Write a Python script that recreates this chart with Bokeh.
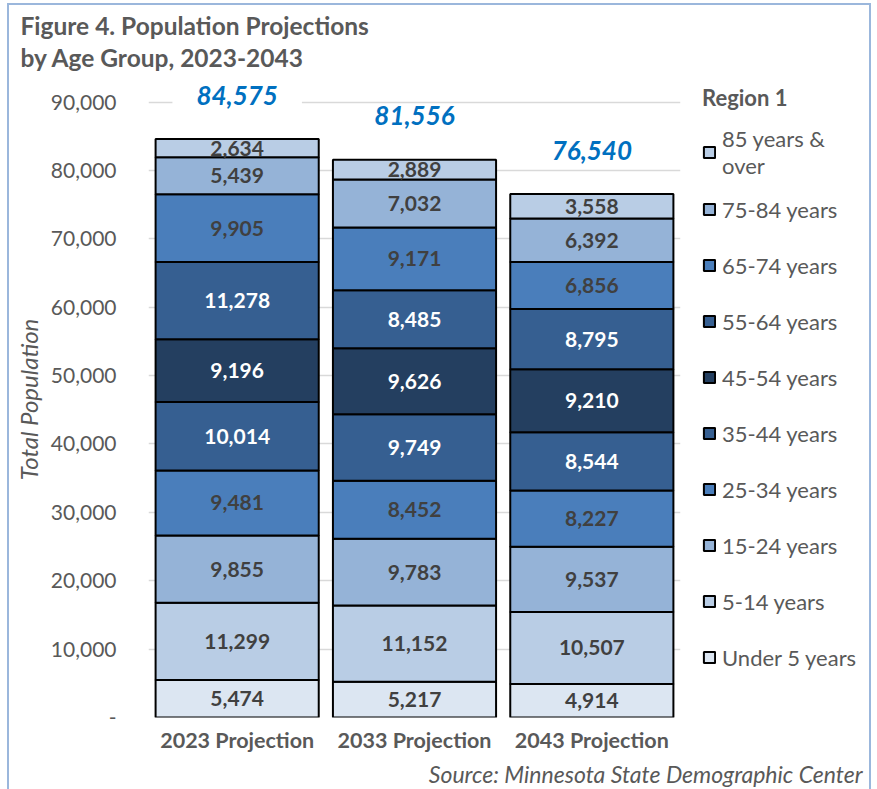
from bokeh.plotting import figure
from bokeh.models import (ColumnDataSource, Legend, LegendItem, Title, InlineStyleSheet,
                          NumeralTickFormatter, FactorRange, Range1d, FixedTicker)
from bokeh.core.properties import value
from bokeh.embed import file_html
from bokeh.resources import INLINE

projections = ["2023 Projection", "2033 Projection", "2043 Projection"]
age_groups = ["Under 5 years", "5-14 years", "15-24 years", "25-34 years", "35-44 years",
              "45-54 years", "55-64 years", "65-74 years", "75-84 years", "85 years & over"]
under_5 = [5474, 5217, 4914]
age_5_14 = [11299, 11152, 10507]
age_15_24 = [9855, 9783, 9537]
age_25_34 = [9481, 8452, 8227]
age_35_44 = [10014, 9749, 8544]
age_45_54 = [9196, 9626, 9210]
age_55_64 = [11278, 8485, 8795]
age_65_74 = [9905, 9171, 6856]
age_75_84 = [5439, 7032, 6392]
age_85_over = [2634, 2889, 3558]
y_ticks = [0, 10000, 20000, 30000, 40000, 50000, 60000, 70000, 80000, 90000]

series = [under_5, age_5_14, age_15_24, age_25_34, age_35_44,
          age_45_54, age_55_64, age_65_74, age_75_84, age_85_over]
colors = ["#DCE6F2", "#B9CDE5", "#95B3D7", "#4A7EBB", "#365F91",
          "#243F60", "#365F91", "#4A7EBB", "#95B3D7", "#B9CDE5"]
label_colors = ["#404040", "#404040", "#404040", "#404040", "white",
                "white", "white", "#404040", "#404040", "#404040"]
keys = ["g%d" % i for i in range(len(age_groups))]

FONT = "Lato"
GRAY = "#595959"

p = figure(x_range=FactorRange(*projections, range_padding=0),
           y_range=Range1d(0, 93000),
           frame_width=532, frame_height=636, output_backend="svg", toolbar_location=None,
           min_border_left=148, min_border_right=197, min_border_top=80, min_border_bottom=73)
p.outline_line_color = None
p.background_fill_color = "white"
p.border_fill_color = "white"

# frame border around the whole chart
p.stylesheets = [InlineStyleSheet(css="""
:host { overflow: hidden; }
:host::after { content: ""; position: absolute; left: 7px; top: 3px; width: 864px; height: 820px;
  border: 2px solid #9BB7DC; pointer-events: none; box-sizing: border-box; }
""")]

data = dict(proj=projections)
for k, s in zip(keys, series):
    data[k] = s
source = ColumnDataSource(data)
renderers = p.vbar_stack(keys, x="proj", width=0.92, source=source,
                         fill_color=colors, line_color="black", line_width=2)

# segment labels
lx, ly, lt, lc = [], [], [], []
for j, proj in enumerate(projections):
    base = 0
    for i, s in enumerate(series):
        lx.append(proj)
        ly.append(base + s[j] / 2)
        lt.append("{:,}".format(s[j]))
        lc.append(label_colors[i])
        base += s[j]
p.text(x="proj", y="y", text="t", text_color="c",
       source=ColumnDataSource(dict(proj=lx, y=ly, t=lt, c=lc)),
       text_align="center", text_baseline="middle",
       text_font=value(FONT), text_font_style="bold", text_font_size="21px")

# totals
totals = [sum(s[j] for s in series) for j in range(len(projections))]
p.text(x="proj", y="y", text="t",
       source=ColumnDataSource(dict(proj=projections, y=totals, t=["{:,}".format(t) for t in totals])),
       y_offset=-44, text_align="center", text_baseline="middle",
       text_color="#0070C0", text_font=value(FONT), text_font_style="bold italic",
       text_font_size="26px", background_fill_color="white",
       padding=dict(left=24, right=24, top=2, bottom=2))

# axes
p.yaxis.ticker = FixedTicker(ticks=y_ticks)
p.yaxis.formatter = NumeralTickFormatter(format="0,0")
p.yaxis.major_label_overrides = {0: "-"}
p.yaxis.axis_line_color = None
p.yaxis.major_tick_line_color = None
p.yaxis.minor_tick_line_color = None
p.yaxis.major_label_standoff = 26
p.yaxis.major_label_text_font = FONT
p.yaxis.major_label_text_font_size = "21px"
p.yaxis.major_label_text_color = GRAY
p.yaxis.axis_label = "Total Population"
p.yaxis.axis_label_text_font = FONT
p.yaxis.axis_label_text_font_style = "italic"
p.yaxis.axis_label_text_font_size = "24px"
p.yaxis.axis_label_text_color = GRAY
p.yaxis.axis_label_standoff = 5

p.xaxis.axis_line_color = None
p.xaxis.major_tick_line_color = None
p.xaxis.major_label_standoff = 3
p.xaxis.major_label_text_font = FONT
p.xaxis.major_label_text_font_style = "bold"
p.xaxis.major_label_text_font_size = "21.5px"
p.xaxis.major_label_text_color = GRAY

p.xgrid.grid_line_color = None
p.ygrid.grid_line_color = "#D9D9D9"
p.ygrid.grid_line_width = 1.5

# legend
legend_labels = [value(lab) for lab in age_groups]
legend_labels[-1] = value("85 years &\nover")
items = [LegendItem(label=lab, renderers=[r]) for lab, r in zip(legend_labels, renderers)]
items = items[::-1]
legend = Legend(items=items, location=(22, 34), orientation="vertical",
                title="Region 1", title_text_font=FONT, title_text_font_style="bold",
                title_text_font_size="22px", title_text_color=GRAY, title_standoff=14,
                border_line_color=None, background_fill_alpha=0,
                glyph_width=14, glyph_height=14, label_standoff=6,
                label_text_font=FONT, label_text_font_size="22px", label_text_color=GRAY,
                label_height=52, spacing=4, padding=0, margin=0)
p.add_layout(legend, "right")

# title
p.title.text = "Figure 4. Population Projections\nby Age Group, 2023-2043"
p.title.align = "left"
p.title.offset = -128
p.title.standoff = 18
p.title.text_font = FONT
p.title.text_font_style = "bold"
p.title.text_font_size = "24.5px"
p.title.text_color = GRAY
p.title.text_line_height = 1.12

# source
p.add_layout(Title(text="Source: Minnesota State Demographic Center", align="right",
                   offset=-182, standoff=4, text_font=FONT, text_font_style="italic",
                   text_font_size="23px", text_color=GRAY), "below")

open("out.html", "w").write(file_html(p, INLINE))
